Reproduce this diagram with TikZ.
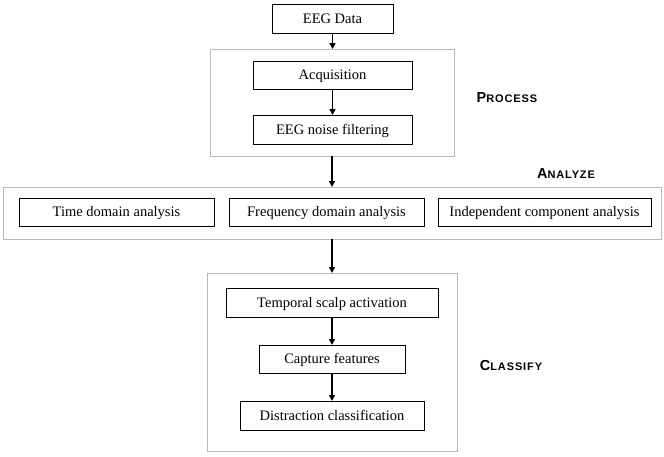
\documentclass[tikz,border=0pt]{standalone}
\usepackage{fontspec}
\setmainfont{Liberation Serif}
\newfontfamily\labelfont{Liberation Sans}
\usetikzlibrary{arrows.meta}
\newcommand{\fakesc}[2]{{\labelfont\bfseries\fontsize{14.5}{15}\selectfont #1\fontsize{11}{12}\selectfont\addfontfeatures{LetterSpace=8} #2}}
\begin{document}
\begin{tikzpicture}[x=1pt,y=-1pt,
  box/.style={draw=black,line width=0.8pt,inner sep=0pt,outer sep=0pt,text height=11pt,text depth=2pt,font=\fontsize{14.5}{16}\selectfont},
  group/.style={draw=black!28,line width=0.9pt,inner sep=0pt,outer sep=0pt},
  flow/.style={-{Triangle[length=6pt,width=6pt]},line width=1.5pt},
  lab/.style={inner sep=0pt}]
\useasboundingbox (0,0) rectangle (664,456);
% groups
\node[group,minimum width=244pt,minimum height=107pt] (pg) at (332,102.5) {};
\node[group,minimum width=658pt,minimum height=52pt] (ag) at (332,213) {};
\node[group,minimum width=250pt,minimum height=178pt] (cg) at (332,362) {};
% boxes
\node[box,minimum width=121pt,minimum height=29pt] (eeg) at (332.5,18.5) {EEG Data};
\node[box,minimum width=159pt,minimum height=28pt] (acq) at (332.5,75) {Acquisition};
\node[box,minimum width=159pt,minimum height=29pt] (noise) at (332.5,129.5) {EEG noise filtering};
\node[box,minimum width=195pt,minimum height=28pt] (time) at (116.5,212) {Time domain analysis};
\node[box,minimum width=195pt,minimum height=28pt] (freq) at (326.5,212) {Frequency domain analysis};
\node[box,minimum width=213pt,minimum height=28pt] (ind) at (544.5,212) {Independent component analysis};
\node[box,minimum width=212pt,minimum height=29pt] (temp) at (332,302.5) {Temporal scalp activation};
\node[box,minimum width=146pt,minimum height=28pt] (cap) at (332,359) {Capture features};
\node[box,minimum width=184pt,minimum height=29pt] (dis) at (332,415.5) {Distraction classification};
% labels
\node[lab] (lp) at (507,98) {\fakesc{P}{ROCESS}};
\node[lab] (la) at (566,174) {\fakesc{A}{NALYZE}};
\node[lab] (lc) at (511,366) {\fakesc{C}{LASSIFY}};
% arrows
\draw[flow] (eeg.south) -- (eeg.south |- pg.north);
\draw[flow] (acq.south) -- (noise.north);
\draw[flow] (pg.south) -- (ag.north);
\draw[flow] (ag.south) -- (cg.north);
\draw[flow] (temp.south) -- (cap.north);
\draw[flow] (cap.south) -- (dis.north);
\end{tikzpicture}
\end{document}
